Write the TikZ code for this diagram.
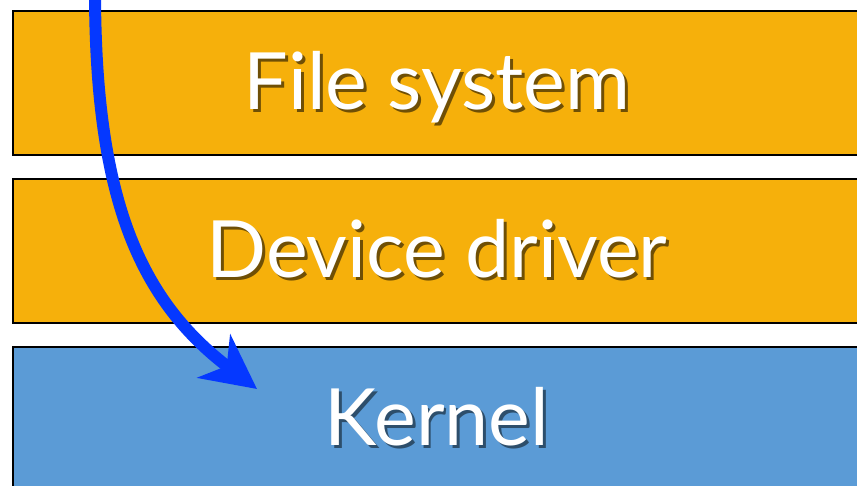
\documentclass[tikz,border=0pt]{standalone}
\usepackage{fontspec}
\setmainfont{Lato}
\usetikzlibrary{arrows.meta}
\definecolor{orangebox}{RGB}{246,176,11}
\definecolor{bluebox}{RGB}{91,155,214}
\definecolor{arrowblue}{RGB}{5,56,255}
\newcommand\shadowedtext[2]{\makebox[0pt][l]{\hspace{3pt}\raisebox{-3pt}{\textcolor{#2}{#1}}}#1}
\begin{document}
\begin{tikzpicture}[x=1pt,y=1pt,
  layerbox/.style={draw=black, line width=2pt, anchor=north west, minimum width=860pt, inner sep=0pt},
  lbl/.style={anchor=base, text=white, font=\fontsize{79}{90}\selectfont, inner sep=0pt},
  flowarrow/.style={draw=arrowblue, line width=12pt, -{Stealth[length=54pt, width=54pt, inset=16pt]}}]
\useasboundingbox (0,0) rectangle (857,486);
\clip (0,0) rectangle (857,486);
\fill[white] (0,0) rectangle (857,486);
% boxes
\node[layerbox, fill=orangebox, minimum height=144pt] (fs) at (12,476) {};
\node[layerbox, fill=orangebox, minimum height=144pt] (dd) at (12,308) {};
\node[layerbox, fill=bluebox, minimum height=150pt] (kn) at (12,140) {};
% labels with shadow
\node[lbl] (fsl) at (437,376) {\shadowedtext{File system}{orangebox!45!black}};
\node[lbl] (ddl) at (437,208) {\shadowedtext{Device driver}{orangebox!45!black}};
\node[lbl] (knl) at (437,40) {\shadowedtext{Kernel}{bluebox!50!black}};
% arrow
\coordinate (start) at (95,496);
\coordinate (tip) at (257,97);
\draw[flowarrow] (start) .. controls (95,286) and (140,186) .. (tip);
\end{tikzpicture}
\end{document}
